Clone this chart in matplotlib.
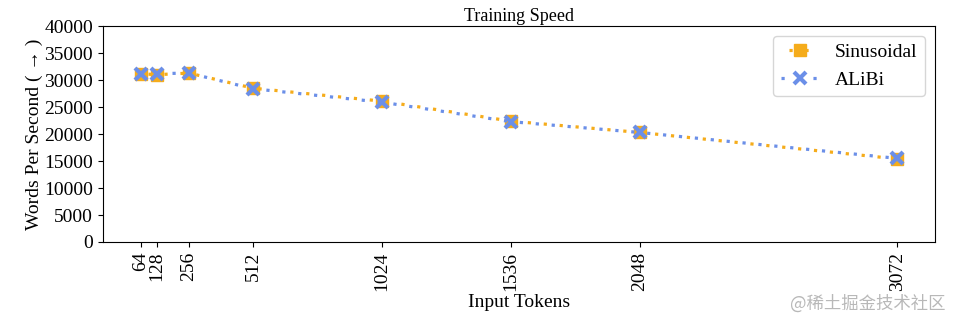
import matplotlib.pyplot as plt

plt.rcParams['font.family'] = ['Liberation Serif', 'DejaVu Serif']

tokens = [64, 128, 256, 512, 1024, 1536, 2048, 3072]
sinusoidal = [31200, 31000, 31300, 28500, 26100, 22400, 20300, 15400]
alibi = [31200, 31200, 31300, 28400, 25900, 22300, 20300, 15500]

fig, ax = plt.subplots(figsize=(9.6, 3.27), dpi=100)

# dotted lines, offset so the two colours interleave
ax.plot(tokens, sinusoidal, color='#f5ac1b', linestyle=(2.5, (1, 4)), linewidth=2.3,
        marker='s', markersize=8, label='Sinusoidal')
ax.plot(tokens, alibi, color='#6b8fe8', linestyle=(0, (1, 4)), linewidth=2.3,
        marker='x', markersize=8, markeredgewidth=3, label='ALiBi')

ax.set_ylim(0, 40000)
ax.set_yticks(range(0, 40001, 5000))
ax.set_xticks(tokens)
ax.set_xticklabels([str(t) for t in tokens], rotation=90)
ax.tick_params(labelsize=14)

ax.set_title('Training Speed', fontsize=13, pad=4)
ax.set_xlabel('Input Tokens', fontsize=14, labelpad=2)
ax.set_ylabel('Words Per Second ( \u2192 )', fontsize=14, labelpad=1)
ax.legend(fontsize=14, loc='upper right')

fig.text(0.985, 0.073, '@稀土掘金技术社区', ha='right', va='center', fontsize=12.5,
         color='#b8b8b8', family=['Noto Sans CJK SC', 'DejaVu Sans'])

plt.subplots_adjust(left=0.107, right=0.974, top=0.92, bottom=0.26)
plt.savefig('out.png')
